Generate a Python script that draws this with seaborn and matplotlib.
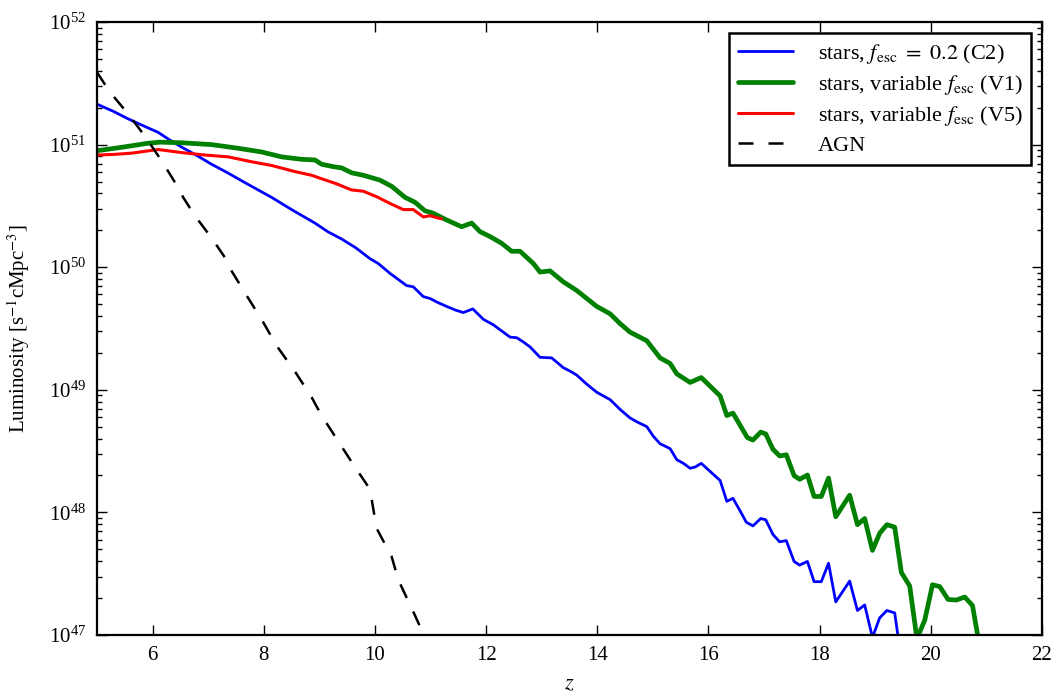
import numpy as np
import pandas as pd
import matplotlib
matplotlib.use("Agg")
import matplotlib.pyplot as plt
from matplotlib.ticker import MultipleLocator, LogLocator, NullFormatter
import seaborn as sns

# Ionising luminosity density versus redshift (log10 of s^-1 cMpc^-3)
z_c2 = [5.00, 5.30, 5.56, 5.85, 6.10, 6.30, 6.52, 6.80, 7.06, 7.35, 7.66, 7.90,
        8.14, 8.50, 8.92, 9.15, 9.40, 9.65, 9.91, 10.06, 10.27, 10.45, 10.57,
        10.69, 10.87, 10.99, 11.14, 11.29, 11.45, 11.59, 11.76, 11.95, 12.13,
        12.28, 12.43, 12.55, 12.67, 12.79, 12.97, 13.18, 13.39, 13.52, 13.63,
        13.80, 13.99, 14.23, 14.41, 14.59, 14.75, 14.89, 15.01, 15.13, 15.31,
        15.43, 15.55, 15.67, 15.76, 15.87, 16.21, 16.33, 16.44, 16.56, 16.68,
        16.80, 16.94, 17.03, 17.16, 17.28, 17.40, 17.54, 17.64, 17.78, 17.90,
        18.03, 18.16, 18.29, 18.54, 18.68, 18.81, 18.95, 19.08, 19.21, 19.35,
        19.47]
log_lum_c2 = [51.33, 51.27, 51.21, 51.15, 51.10, 51.04, 50.98, 50.91, 50.84,
              50.77, 50.69, 50.63, 50.57, 50.47, 50.36, 50.29, 50.23, 50.16,
              50.07, 50.03, 49.95, 49.89, 49.85, 49.84, 49.76, 49.745, 49.71,
              49.68, 49.65, 49.63, 49.66, 49.575, 49.53, 49.48, 49.43, 49.425,
              49.39, 49.35, 49.265, 49.26, 49.18, 49.15, 49.12, 49.05, 48.98,
              48.92, 48.84, 48.77, 48.73, 48.70, 48.62, 48.56, 48.52, 48.43,
              48.40, 48.36, 48.37, 48.40, 48.26, 48.09, 48.115, 48.02, 47.92,
              47.89, 47.95, 47.94, 47.82, 47.76, 47.77, 47.60, 47.57, 47.60,
              47.435, 47.435, 47.585, 47.27, 47.44, 47.20, 47.245, 46.98, 47.14,
              47.20, 47.18, 46.80]

z_v1 = [5.00, 5.32, 5.62, 5.90, 6.13, 6.52, 7.06, 7.54, 7.96, 8.32, 8.68, 8.92,
        9.04, 9.25, 9.40, 9.58, 9.79, 10.09, 10.30, 10.54, 10.72, 10.90, 11.05,
        11.29, 11.56, 11.74, 11.89, 12.07, 12.28, 12.46, 12.61, 12.85, 12.97,
        13.15, 13.39, 13.63, 13.99, 14.23, 14.41, 14.59, 14.89, 15.13, 15.31,
        15.43, 15.67, 15.87, 16.21, 16.33, 16.44, 16.70, 16.80, 16.94, 17.03,
        17.16, 17.28, 17.40, 17.54, 17.64, 17.78, 17.90, 18.03, 18.16, 18.29,
        18.54, 18.68, 18.81, 18.95, 19.08, 19.21, 19.35, 19.47, 19.62, 19.75,
        19.89, 20.03, 20.16, 20.31, 20.46, 20.61, 20.75, 20.88]
log_lum_v1 = [50.95, 50.97, 50.99, 51.01, 51.02, 51.015, 51.00, 50.97, 50.94,
              50.90, 50.88, 50.875, 50.84, 50.82, 50.81, 50.77, 50.75, 50.71,
              50.66, 50.57, 50.53, 50.46, 50.44, 50.385, 50.33, 50.36, 50.29,
              50.25, 50.195, 50.13, 50.13, 50.03, 49.96, 49.97, 49.88, 49.81,
              49.68, 49.62, 49.54, 49.47, 49.40, 49.26, 49.215, 49.13, 49.06,
              49.10, 48.95, 48.79, 48.81, 48.61, 48.59, 48.655, 48.64, 48.515,
              48.46, 48.47, 48.30, 48.27, 48.305, 48.13, 48.13, 48.28, 47.965,
              48.14, 47.90, 47.95, 47.69, 47.83, 47.90, 47.88, 47.51, 47.40,
              46.97, 47.12, 47.41, 47.395, 47.29, 47.285, 47.31, 47.24, 46.90]

z_v5 = [5.00, 5.30, 5.62, 6.10, 6.52, 6.94, 7.36, 7.78, 8.14, 8.56, 8.86, 9.05,
        9.31, 9.58, 9.79, 10.03, 10.27, 10.51, 10.69, 10.87, 10.99, 11.14, 11.20]
log_lum_v5 = [50.915, 50.92, 50.93, 50.96, 50.935, 50.915, 50.90, 50.86, 50.83,
              50.78, 50.75, 50.72, 50.68, 50.63, 50.62, 50.575, 50.52, 50.47,
              50.47, 50.41, 50.42, 50.40, 50.395]

z_agn = [5.00, 5.23, 5.56, 5.86, 6.16, 6.46, 6.55, 6.76, 7.06, 7.36, 7.42, 7.69,
         7.96, 8.23, 8.56, 8.86, 9.04, 9.34, 9.64, 9.91, 10.03, 10.30, 10.42,
         10.72, 11.00]
log_lum_agn = [51.59, 51.43, 51.25, 51.07, 50.87, 50.65, 50.57, 50.42, 50.24,
               50.04, 49.97, 49.77, 49.575, 49.36, 49.15, 48.94, 48.79, 48.58,
               48.37, 48.19, 47.87, 47.64, 47.45, 47.16, 46.88]

labels = [r"stars, $f_{\rm esc}\ =\ 0.2$ (C2)",
          r"stars, variable $f_{\rm esc}$ (V1)",
          r"stars, variable $f_{\rm esc}$ (V5)",
          "AGN"]

sns.set_theme(style="ticks")
plt.rcParams.update({
    "font.family": ["Liberation Serif", "DejaVu Serif"],
    "mathtext.fontset": "stix",
    "axes.linewidth": 1.6,
    "xtick.direction": "in",
    "ytick.direction": "in",
    "xtick.top": True,
    "ytick.right": True,
    "xtick.major.size": 7,
    "ytick.major.size": 7,
    "xtick.minor.size": 3.5,
    "ytick.minor.size": 3.5,
    "xtick.major.width": 1.0,
    "ytick.major.width": 1.0,
    "ytick.minor.width": 1.0,
    "xtick.color": "black",
    "ytick.color": "black",
    "axes.edgecolor": "black",
    "text.color": "black",
    "axes.labelcolor": "black",
})

frames = []
for name, zz, ll in [(labels[0], z_c2, log_lum_c2), (labels[1], z_v1, log_lum_v1),
                     (labels[2], z_v5, log_lum_v5), (labels[3], z_agn, log_lum_agn)]:
    frames.append(pd.DataFrame({"z": zz, "L": np.power(10.0, ll), "model": name}))
df = pd.concat(frames, ignore_index=True)

fig = plt.figure(figsize=(10.54, 6.97), dpi=100)
ax = fig.add_axes([97 / 1054, 1 - 635 / 697, (1042 - 97) / 1054, (635 - 22) / 697])

styles = {
    labels[0]: dict(color="#0000ff", lw=2.0, ls="-"),
    labels[1]: dict(color="#008000", lw=3.4, ls="-"),
    labels[2]: dict(color="#ff0000", lw=2.2, ls="-"),
    labels[3]: dict(color="black", lw=1.8, ls=(0, (6, 6))),
}
for name in labels:
    sub = df[df["model"] == name]
    st = styles[name]
    sns.lineplot(data=sub, x="z", y="L", ax=ax, color=st["color"], lw=st["lw"],
                 linestyle=st["ls"], label=name, sort=False, estimator=None)

ax.set_yscale("log")
ax.set_xlim(5, 22)
ax.set_ylim(1e47, 1e52)
ax.xaxis.set_major_locator(MultipleLocator(2))
ax.yaxis.set_major_locator(LogLocator(base=10, numticks=10))
ax.yaxis.set_minor_locator(LogLocator(base=10, subs=np.arange(2, 10), numticks=20))
ax.yaxis.set_minor_formatter(NullFormatter())
ax.tick_params(axis="both", which="major", labelsize=15, pad=8)
ax.tick_params(axis="x", which="minor", bottom=False, top=False)

ax.set_xlabel(r"$z$", fontsize=16, labelpad=7)
ax.set_ylabel(r"Luminosity [s$^{-1}$cMpc$^{-3}$]", fontsize=15, labelpad=12)

leg = ax.legend(loc="upper right", fontsize=16, frameon=True, fancybox=False,
                handlelength=2.5, borderaxespad=0.5, labelspacing=0.33,
                borderpad=0.38, handletextpad=1.1)
leg.get_frame().set_edgecolor("black")
leg.get_frame().set_linewidth(1.8)
leg.get_frame().set_alpha(1.0)

fig.savefig("out.png", dpi=100)
